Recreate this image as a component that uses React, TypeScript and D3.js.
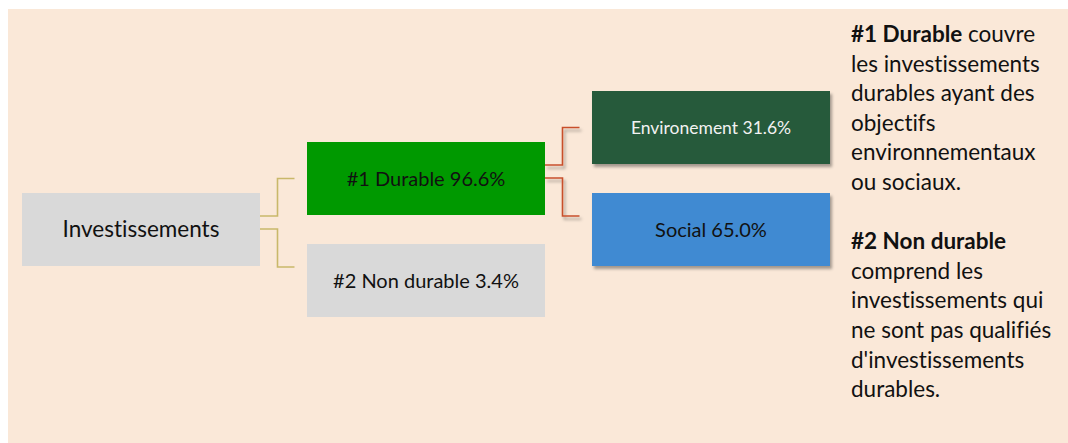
import { useRef, useEffect } from "react";
import * as d3 from "d3";

// tree nodes: label, share (%), depth (column), row (half-step slots)
const nodeLabels = ["Investissements", "#1 Durable", "#2 Non durable", "Environement", "Social"];
const nodeShares: (number | null)[] = [null, 96.6, 3.4, 31.6, 65.0];
const nodeDepth = [0, 1, 1, 2, 2];
const nodeRow = [2, 1, 3, 0, 2];
const nodeParent = [-1, 0, 0, 1, 1];

const noteLines: { bold?: string; text?: string }[] = [
  { bold: "#1 Durable", text: " couvre" },
  { text: "les investissements" },
  { text: "durables ayant des" },
  { text: "objectifs" },
  { text: "environnementaux" },
  { text: "ou sociaux." },
  { text: "" },
  { bold: "#2 Non durable" },
  { text: "comprend les" },
  { text: "investissements qui" },
  { text: "ne sont pas qualifiés" },
  { text: "d'investissements" },
  { text: "durables." },
];

const W = 1068;
const H = 443;
const FONT = "Lato, 'Open Sans', sans-serif";

const fills = ["#d9d9d9", "#009900", "#d9d9d9", "#265a3a", "#418ad2"];
const textFills = ["#111", "#111", "#111", "#f2f2f2", "#111"];
const fontSizes = [22.5, 20, 20, 17.5, 20];
const linkColors = ["", "#c9b86a", "#c9b86a", "#c8502c", "#c8502c"];

export default function App() {
  const svgRef = useRef<SVGSVGElement>(null);

  useEffect(() => {
    if (!svgRef.current) return;
    const svg = d3.select(svgRef.current);
    svg.selectAll("*").remove();

    const boxW = 238;
    const boxH = 73;
    const x = d3.scaleLinear().domain([0, 2]).range([22, 592]);
    const y = d3.scaleLinear().domain([0, 3]).range([91, 244]);

    const defs = svg.append("defs");
    defs.append("filter").attr("id", "shadow")
      .attr("x", "-10%").attr("y", "-10%").attr("width", "130%").attr("height", "140%")
      .append("feDropShadow")
      .attr("dx", 2).attr("dy", 3).attr("stdDeviation", 1.8)
      .attr("flood-color", "#000").attr("flood-opacity", 0.35);

    svg.append("rect").attr("x", 8).attr("y", 9)
      .attr("width", W - 8).attr("height", H - 9).attr("fill", "#fae8d8");

    // elbow connectors
    const nodes = nodeLabels.map((label, i) => ({
      i, label, share: nodeShares[i], x: x(nodeDepth[i]), y: y(nodeRow[i]), parent: nodeParent[i],
    }));
    nodes.filter((n) => n.parent >= 0).forEach((n) => {
      const p = nodes[n.parent];
      const siblings = nodes.filter((s) => s.parent === n.parent);
      const first = siblings[0].i === n.i;
      const y0 = p.y + (first ? 23 : 36);
      const y1 = first ? n.y + boxH / 2 : n.y + 23;
      const x0 = p.x + boxW;
      const xm = x0 + 17.5;
      const x1 = n.x - 12.5;
      const path = d3.path();
      path.moveTo(x0, y0);
      path.lineTo(xm, y0);
      path.lineTo(xm, y1);
      path.lineTo(x1, y1);
      svg.append("path").attr("d", path.toString())
        .attr("fill", "none").attr("stroke", linkColors[n.i]).attr("stroke-width", 1.6)
        .attr("filter", nodeDepth[n.i] === 2 ? "url(#shadow)" : null);
    });

    const g = svg.selectAll("g.node").data(nodes).join("g").attr("class", "node")
      .attr("transform", (d) => `translate(${d.x},${d.y})`);
    g.append("rect").attr("width", boxW).attr("height", boxH)
      .attr("fill", (d) => fills[d.i])
      .attr("filter", (d) => (nodeDepth[d.i] === 2 ? "url(#shadow)" : null));
    g.append("text")
      .attr("x", boxW / 2).attr("y", boxH / 2).attr("dy", "0.35em")
      .attr("text-anchor", "middle")
      .attr("font-family", FONT).attr("font-size", (d) => fontSizes[d.i])
      .style("font-variant-ligatures", "none")
      .attr("fill", (d) => textFills[d.i])
      .text((d) => (d.share == null ? d.label : `${d.label} ${d.share.toFixed(1)}%`));

    // side note
    const note = svg.append("text").attr("font-family", FONT).attr("font-size", 22.5)
      .style("font-variant-ligatures", "none").attr("fill", "#111");
    noteLines.forEach((ln, i) => {
      const t = note.append("tspan").attr("x", 851).attr("y", 42 + i * 29.6);
      if (ln.bold) t.append("tspan").attr("font-weight", 700).text(ln.bold);
      if (ln.text) t.append("tspan").text(ln.text);
    });
  }, []);

  return (
    <svg ref={svgRef} width={W} height={H}
      style={{ position: "absolute", left: 0, top: 0, background: "#fff" }} />
  );
}
